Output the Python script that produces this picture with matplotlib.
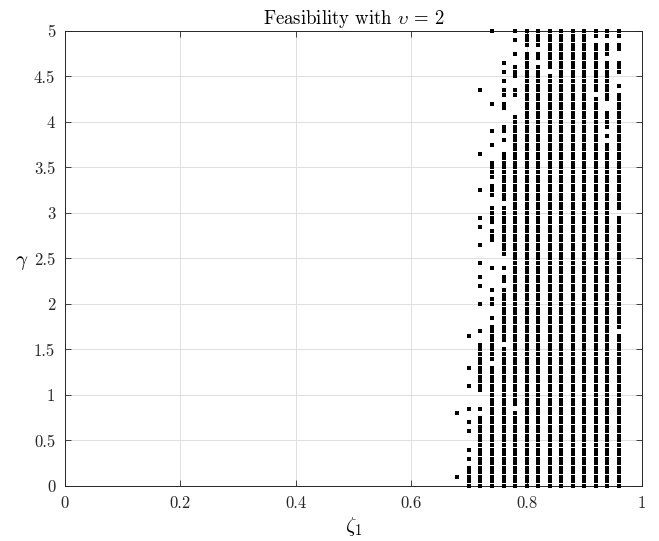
import matplotlib
matplotlib.use('Agg')
import matplotlib.pyplot as plt
from matplotlib.ticker import FuncFormatter
import numpy as np

# ==================== style (MATLAB-like, Computer Modern) ====================
plt.rcParams['font.family'] = ['cmr10', 'DejaVu Serif']
plt.rcParams['mathtext.fontset'] = 'cm'
plt.rcParams['axes.formatter.use_mathtext'] = True
plt.rcParams['axes.unicode_minus'] = False

AXIS_COLOR = '#262626'
GRID_COLOR = '#DFDFDF'

# ==================== data ====================
# zeta_1 columns of the feasibility grid
zeta = [0.68, 0.70, 0.72, 0.74, 0.76, 0.78, 0.80, 0.82,
        0.84, 0.86, 0.88, 0.90, 0.92, 0.94, 0.96]
gamma_step = 0.05

# feasible gamma runs (low, high) read per column
runs_068 = [(0.1, 0.1), (0.8, 0.8)]
runs_070 = [(0.0, 0.2), (0.3, 0.3), (0.4, 0.4), (0.6, 0.6), (0.7, 0.7),
            (0.85, 0.85), (1.1, 1.1), (1.3, 1.3), (1.65, 1.65)]
runs_072 = [(0.0, 0.75), (0.85, 0.85), (1.05, 1.55), (1.7, 1.7), (2.0, 2.0),
            (2.2, 2.2), (2.3, 2.3), (2.45, 2.45), (2.65, 2.65), (2.85, 2.85),
            (2.95, 2.95), (3.25, 3.25), (3.65, 3.65), (4.35, 4.35)]
runs_074 = [(0.0, 1.3), (1.4, 1.75), (1.85, 1.85), (2.0, 2.05), (2.15, 2.15),
            (2.4, 2.4), (2.7, 2.8), (2.9, 3.05), (3.2, 3.3), (3.4, 3.55),
            (3.75, 3.75), (3.9, 3.9), (4.2, 4.2), (5.0, 5.0)]
runs_076 = [(0.0, 1.5), (1.6, 2.15), (2.25, 2.3), (2.4, 2.4), (2.55, 3.05),
            (3.15, 3.65), (3.8, 3.8), (3.9, 3.95), (4.15, 4.2), (4.3, 4.35),
            (4.45, 4.45), (4.55, 4.55), (4.65, 4.65)]
runs_078 = [(0.0, 0.8), (0.9, 4.05), (4.3, 4.35), (4.5, 4.6), (4.75, 4.75),
            (4.9, 4.9), (5.0, 5.0)]
runs_080 = [(0.0, 4.75), (4.85, 5.0)]
runs_082 = [(0.0, 4.6), (4.7, 4.75), (4.85, 5.0)]
runs_084 = [(0.0, 4.5), (4.6, 5.0)]
runs_086 = [(0.0, 5.0)]
runs_088 = [(0.0, 5.0)]
runs_090 = [(0.0, 5.0)]
runs_092 = [(0.0, 4.25), (4.35, 4.85), (4.95, 5.0)]
runs_094 = [(0.0, 3.75), (3.85, 3.85), (3.95, 4.1), (4.25, 4.65),
            (4.75, 4.85), (4.95, 5.0)]
runs_096 = [(0.0, 1.65), (1.75, 2.95), (3.05, 4.3), (4.4, 4.4),
            (4.55, 4.65), (4.8, 4.85), (4.95, 5.0)]

gamma_runs = [runs_068, runs_070, runs_072, runs_074, runs_076, runs_078,
              runs_080, runs_082, runs_084, runs_086, runs_088, runs_090,
              runs_092, runs_094, runs_096]

# expand the runs onto the gamma grid
xs, ys = [], []
for z, runs in zip(zeta, gamma_runs):
    for lo, hi in runs:
        g = np.arange(lo, hi + gamma_step / 2, gamma_step)
        xs.extend([z] * len(g))
        ys.extend(g)

# ==================== plot ====================
fig = plt.figure(figsize=(6.59, 5.41), dpi=100, facecolor='white')
ax = fig.add_axes([0.0986, 0.1017, 0.8756, 0.8410])

ax.scatter(xs, ys, marker='s', s=5.5, color='black', linewidths=0,
           zorder=3, clip_on=False)

ax.set_xlim(0, 1)
ax.set_ylim(0, 5)
ax.set_xticks(np.arange(0, 1.01, 0.2))
ax.set_yticks(np.arange(0, 5.01, 0.5))
ax.xaxis.set_major_formatter(FuncFormatter(lambda v, p: f'{v:g}'))
ax.yaxis.set_major_formatter(FuncFormatter(lambda v, p: f'{v:g}'))

ax.grid(True, color=GRID_COLOR, linewidth=0.7, zorder=0)
ax.set_axisbelow(True)
ax.tick_params(direction='in', top=True, right=True, length=4,
               width=0.6, colors=AXIS_COLOR, labelsize=12, pad=7)
for s in ax.spines.values():
    s.set_color(AXIS_COLOR)
    s.set_linewidth(0.7)

ax.set_title(r'Feasibility with $\upsilon\,=\,2$', fontsize=13.5, pad=5)
ax.set_xlabel(r'$\zeta_1$', fontsize=15, labelpad=3)
ax.set_ylabel(r'$\gamma$', fontsize=15, rotation=0, ha='center', va='center')
ax.yaxis.set_label_coords(-0.075, 0.49)

plt.savefig('out.png', dpi=100, facecolor='white')
